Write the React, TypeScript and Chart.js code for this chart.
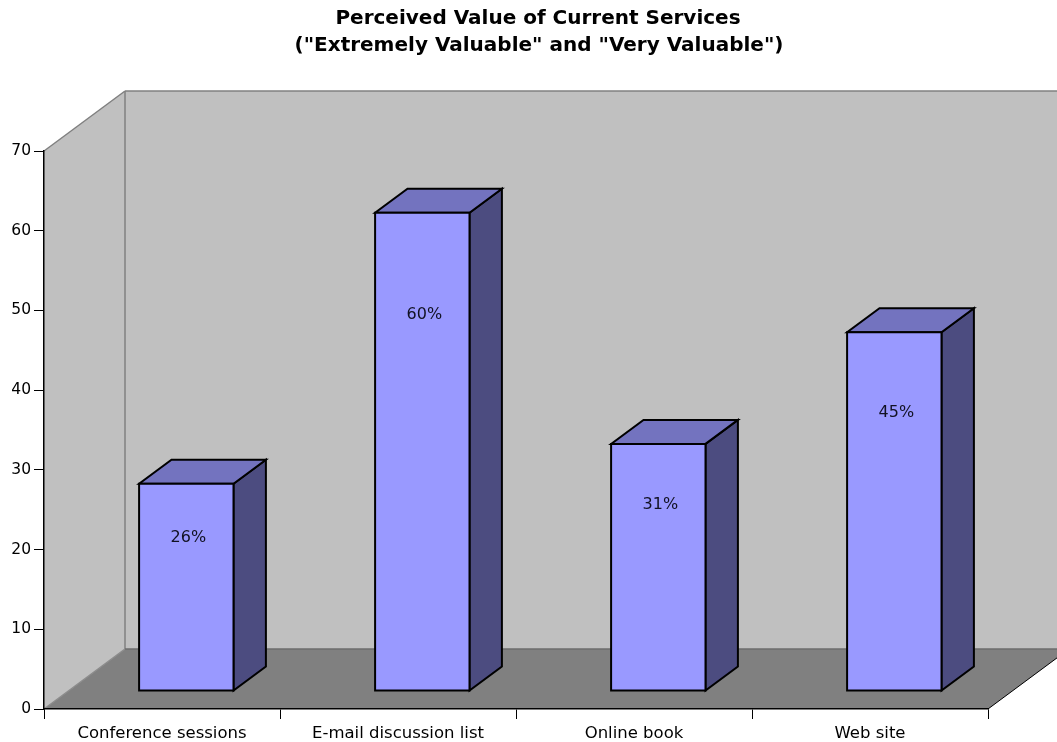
import { useEffect, useRef } from 'react';
import { Chart, registerables } from 'chart.js';

Chart.register(...registerables);

// ---- data ----
const categories = ['Conference sessions', 'E-mail discussion list', 'Online book', 'Web site'];
const values = [26, 60, 31, 45];
const valueLabels = ['26%', '60%', '31%', '45%'];
const titleLines = ['Perceived Value of Current Services', '("Extremely Valuable" and "Very Valuable")'];
const yMin = 0;
const yMax = 70;
const yStep = 10;

// ---- 3D projection settings ----
const DEPTH_X = 81; // horizontal shift of the back plane
const DEPTH_Y = 60; // vertical shift of the back plane
const BAR_FRONT = 0.3; // depth fraction where a bar's front face sits
const BAR_BACK = 0.7; // depth fraction where a bar's back face sits
const LABEL_POS = 0.825; // value labels sit at this share of the value on the front scale

const FONT = "'DejaVu Sans', Verdana, sans-serif";

const COLORS = {
  wall: '#c0c0c0',
  wallEdge: '#808080',
  floor: '#808080',
  floorBackEdge: '#6c6c6c',
  front: '#9999ff',
  top: '#7373bf',
  side: '#4c4c80',
  outline: '#000000',
};

function poly(ctx: CanvasRenderingContext2D, pts: number[][]) {
  ctx.beginPath();
  ctx.moveTo(pts[0][0], pts[0][1]);
  for (let i = 1; i < pts.length; i++) ctx.lineTo(pts[i][0], pts[i][1]);
  ctx.closePath();
}

function line(ctx: CanvasRenderingContext2D, x1: number, y1: number, x2: number, y2: number) {
  ctx.beginPath();
  ctx.moveTo(x1, y1);
  ctx.lineTo(x2, y2);
  ctx.stroke();
}

// Walls and floor of the 3D box, painted before the axes
const wallsPlugin = {
  id: 'walls3d',
  beforeDraw(chart: any) {
    const { ctx, chartArea } = chart;
    const L = chartArea.left;
    const R = chartArea.right;
    const T = chartArea.top;
    const B = chartArea.bottom;
    const dx = DEPTH_X;
    const dy = DEPTH_Y;
    ctx.save();

    // back wall
    ctx.fillStyle = COLORS.wall;
    ctx.fillRect(L + dx, T - dy, R - L, B - T);
    // left side wall
    poly(ctx, [[L, T], [L + dx, T - dy], [L + dx, B - dy], [L, B]]);
    ctx.fill();
    // floor
    ctx.fillStyle = COLORS.floor;
    poly(ctx, [[L, B], [R, B], [R + dx, B - dy], [L + dx, B - dy]]);
    ctx.fill();

    // wall edges
    ctx.strokeStyle = COLORS.wallEdge;
    ctx.lineWidth = 1.5;
    line(ctx, L + dx, T - dy, R + dx, T - dy);
    line(ctx, L + dx, T - dy, L + dx, B - dy);
    line(ctx, L, T, L + dx, T - dy);
    ctx.strokeStyle = '#8c8c8c';
    line(ctx, L, B, L + dx, B - dy);
    ctx.strokeStyle = COLORS.floorBackEdge;
    line(ctx, L + dx, B - dy, R + dx, B - dy);

    // right edge of the floor
    ctx.strokeStyle = '#000000';
    ctx.lineWidth = 1;
    line(ctx, R, B, R + dx, B - dy);
    ctx.restore();
  },
};

// 3D bars built from the bar elements laid out by the chart
const bars3dPlugin = {
  id: 'bars3d',
  afterDatasetsDraw(chart: any) {
    const { ctx } = chart;
    const yScale = chart.scales.y;
    const meta = chart.getDatasetMeta(0);
    const fx = DEPTH_X * BAR_FRONT;
    const fy = DEPTH_Y * BAR_FRONT;
    const ddx = DEPTH_X * (BAR_BACK - BAR_FRONT);
    const ddy = DEPTH_Y * (BAR_BACK - BAR_FRONT);
    ctx.save();
    ctx.lineJoin = 'miter';
    meta.data.forEach((el: any, i: number) => {
      const { x, y, base, width } = el.getProps(['x', 'y', 'base', 'width'], true);
      const l = x - width / 2 + fx;
      const r = x + width / 2 + fx;
      const t = y - fy;
      const b = base - fy;
      ctx.lineWidth = 2;
      ctx.strokeStyle = COLORS.outline;

      // side face
      ctx.fillStyle = COLORS.side;
      poly(ctx, [[r, b], [r, t], [r + ddx, t - ddy], [r + ddx, b - ddy]]);
      ctx.fill();
      ctx.stroke();
      // top face
      ctx.fillStyle = COLORS.top;
      poly(ctx, [[l, t], [r, t], [r + ddx, t - ddy], [l + ddx, t - ddy]]);
      ctx.fill();
      ctx.stroke();
      // front face
      ctx.fillStyle = COLORS.front;
      poly(ctx, [[l, b], [l, t], [r, t], [r, b]]);
      ctx.fill();
      ctx.stroke();

      // value label
      ctx.fillStyle = '#111122';
      ctx.font = `16px ${FONT}`;
      ctx.textAlign = 'center';
      ctx.textBaseline = 'middle';
      ctx.fillText(valueLabels[i], (l + r) / 2 + 2, yScale.getPixelForValue(values[i] * LABEL_POS));
    });
    ctx.restore();
  },
};

// Two-line bold heading
const headingPlugin = {
  id: 'heading',
  afterDraw(chart: any) {
    const { ctx } = chart;
    ctx.save();
    ctx.fillStyle = '#000000';
    ctx.font = `bold 20px ${FONT}`;
    ctx.textAlign = 'center';
    ctx.textBaseline = 'middle';
    ctx.fillText(titleLines[0], 538, 19);
    ctx.fillText(titleLines[1], 539, 46);
    ctx.restore();
  },
};

export default function App() {
  const canvasRef = useRef<HTMLCanvasElement | null>(null);

  useEffect(() => {
    const canvas = canvasRef.current;
    if (!canvas) return;
    const chart = new Chart(canvas, {
      type: 'bar',
      data: {
        labels: categories,
        datasets: [
          {
            data: values,
            backgroundColor: 'rgba(0,0,0,0)',
            borderWidth: 0,
            categoryPercentage: 1,
            barPercentage: 0.4,
          },
        ],
      },
      options: {
        responsive: false,
        animation: false,
        devicePixelRatio: 1,
        layout: { padding: { left: 0, right: 69, top: 151, bottom: 0 } },
        plugins: {
          legend: { display: false },
          tooltip: { enabled: false },
          title: { display: false },
        },
        scales: {
          x: {
            type: 'category',
            afterFit: (scale: any) => {
              scale.height = 33;
            },
            grid: {
              offset: true,
              drawOnChartArea: false,
              drawTicks: true,
              tickLength: 10,
              color: '#000000',
            },
            border: { display: true, color: '#000000', width: 1.5 },
            ticks: {
              color: '#000000',
              font: { family: FONT, size: 16.5 },
              padding: 5,
              maxRotation: 0,
              autoSkip: false,
            },
          },
          y: {
            type: 'linear',
            min: yMin,
            max: yMax,
            afterFit: (scale: any) => {
              scale.width = 44;
            },
            grid: {
              drawOnChartArea: false,
              drawTicks: true,
              tickLength: 10,
              color: '#000000',
            },
            border: { display: true, color: '#000000', width: 1.5 },
            ticks: {
              stepSize: yStep,
              color: '#000000',
              font: { family: FONT, size: 15.5 },
              padding: 3,
            },
          },
        },
      },
      plugins: [wallsPlugin, bars3dPlugin, headingPlugin],
    });
    return () => chart.destroy();
  }, []);

  return (
    <div style={{ position: 'absolute', left: 0, top: 0, width: 1057, height: 742, background: '#ffffff' }}>
      <canvas ref={canvasRef} width={1057} height={742} />
    </div>
  );
}
